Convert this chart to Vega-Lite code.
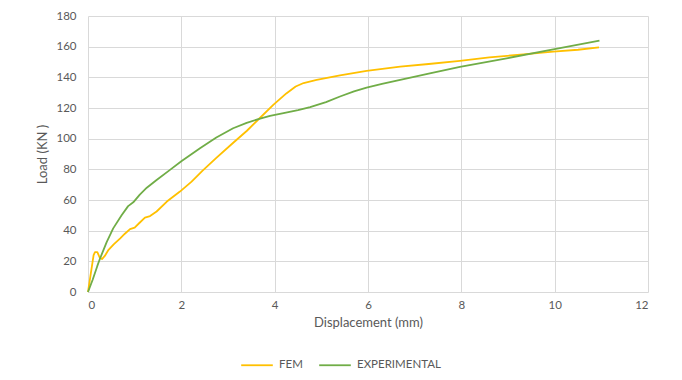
{
  "$schema": "https://vega.github.io/schema/vega-lite/v6.json",
  "width": 560,
  "height": 276,
  "autosize": {"type": "none"},
  "padding": {"left": 88, "top": 16, "right": 34, "bottom": 88},
  "background": "white",
  "config": {
    "font": "Lato",
    "view": {"stroke": null},
    "axis": {
      "domain": false,
      "ticks": false,
      "tickSize": 0,
      "gridColor": "#d9d9d9",
      "gridWidth": 1,
      "labelColor": "#595959",
      "labelFontSize": 11.5,
      "titleColor": "#595959",
      "titleFontSize": 13,
      "titleFontWeight": "normal"
    }
  },
  "data": {
    "values": [
      {"series": "FEM", "i": 0, "x": 0, "y": 0},
      {"series": "FEM", "i": 1, "x": 0.05, "y": 10},
      {"series": "FEM", "i": 2, "x": 0.12, "y": 24},
      {"series": "FEM", "i": 3, "x": 0.15, "y": 26},
      {"series": "FEM", "i": 4, "x": 0.2, "y": 26},
      {"series": "FEM", "i": 5, "x": 0.25, "y": 22.5},
      {"series": "FEM", "i": 6, "x": 0.3, "y": 21.5},
      {"series": "FEM", "i": 7, "x": 0.36, "y": 23.5},
      {"series": "FEM", "i": 8, "x": 0.44, "y": 27.5},
      {"series": "FEM", "i": 9, "x": 0.55, "y": 31},
      {"series": "FEM", "i": 10, "x": 0.69, "y": 35},
      {"series": "FEM", "i": 11, "x": 0.79, "y": 38},
      {"series": "FEM", "i": 12, "x": 0.9, "y": 41},
      {"series": "FEM", "i": 13, "x": 1.0, "y": 42},
      {"series": "FEM", "i": 14, "x": 1.1, "y": 45},
      {"series": "FEM", "i": 15, "x": 1.22, "y": 48.5},
      {"series": "FEM", "i": 16, "x": 1.33, "y": 49.5},
      {"series": "FEM", "i": 17, "x": 1.47, "y": 52.5},
      {"series": "FEM", "i": 18, "x": 1.69, "y": 59},
      {"series": "FEM", "i": 19, "x": 1.97, "y": 65.5},
      {"series": "FEM", "i": 20, "x": 2.22, "y": 72},
      {"series": "FEM", "i": 21, "x": 2.45, "y": 79},
      {"series": "FEM", "i": 22, "x": 2.75, "y": 87.5},
      {"series": "FEM", "i": 23, "x": 3.1, "y": 97},
      {"series": "FEM", "i": 24, "x": 3.4, "y": 105},
      {"series": "FEM", "i": 25, "x": 3.65, "y": 112.5},
      {"series": "FEM", "i": 26, "x": 3.97, "y": 122},
      {"series": "FEM", "i": 27, "x": 4.25, "y": 129.5},
      {"series": "FEM", "i": 28, "x": 4.45, "y": 134},
      {"series": "FEM", "i": 29, "x": 4.62, "y": 136.3},
      {"series": "FEM", "i": 30, "x": 4.9, "y": 138.3},
      {"series": "FEM", "i": 31, "x": 5.4, "y": 141.3},
      {"series": "FEM", "i": 32, "x": 5.97, "y": 144.2},
      {"series": "FEM", "i": 33, "x": 6.69, "y": 147},
      {"series": "FEM", "i": 34, "x": 7.3, "y": 148.7},
      {"series": "FEM", "i": 35, "x": 7.97, "y": 150.8},
      {"series": "FEM", "i": 36, "x": 8.6, "y": 153},
      {"series": "FEM", "i": 37, "x": 9.33, "y": 155},
      {"series": "FEM", "i": 38, "x": 9.97, "y": 156.7},
      {"series": "FEM", "i": 39, "x": 10.5, "y": 158},
      {"series": "FEM", "i": 40, "x": 10.95, "y": 159.5},
      {"series": "EXPERIMENTAL", "i": 0, "x": 0, "y": 0},
      {"series": "EXPERIMENTAL", "i": 1, "x": 0.1, "y": 8},
      {"series": "EXPERIMENTAL", "i": 2, "x": 0.2, "y": 17},
      {"series": "EXPERIMENTAL", "i": 3, "x": 0.26, "y": 22},
      {"series": "EXPERIMENTAL", "i": 4, "x": 0.4, "y": 32.5},
      {"series": "EXPERIMENTAL", "i": 5, "x": 0.54, "y": 41.5},
      {"series": "EXPERIMENTAL", "i": 6, "x": 0.72, "y": 50},
      {"series": "EXPERIMENTAL", "i": 7, "x": 0.86, "y": 56},
      {"series": "EXPERIMENTAL", "i": 8, "x": 0.97, "y": 58.5},
      {"series": "EXPERIMENTAL", "i": 9, "x": 1.11, "y": 63.5},
      {"series": "EXPERIMENTAL", "i": 10, "x": 1.26, "y": 68},
      {"series": "EXPERIMENTAL", "i": 11, "x": 1.47, "y": 73},
      {"series": "EXPERIMENTAL", "i": 12, "x": 1.75, "y": 79.5},
      {"series": "EXPERIMENTAL", "i": 13, "x": 2.0, "y": 85.3},
      {"series": "EXPERIMENTAL", "i": 14, "x": 2.4, "y": 93.8},
      {"series": "EXPERIMENTAL", "i": 15, "x": 2.75, "y": 100.8},
      {"series": "EXPERIMENTAL", "i": 16, "x": 3.11, "y": 106.8},
      {"series": "EXPERIMENTAL", "i": 17, "x": 3.4, "y": 110.3},
      {"series": "EXPERIMENTAL", "i": 18, "x": 3.65, "y": 112.7},
      {"series": "EXPERIMENTAL", "i": 19, "x": 3.9, "y": 114.8},
      {"series": "EXPERIMENTAL", "i": 20, "x": 4.19, "y": 116.7},
      {"series": "EXPERIMENTAL", "i": 21, "x": 4.5, "y": 118.6},
      {"series": "EXPERIMENTAL", "i": 22, "x": 4.76, "y": 120.6},
      {"series": "EXPERIMENTAL", "i": 23, "x": 5.1, "y": 123.8},
      {"series": "EXPERIMENTAL", "i": 24, "x": 5.4, "y": 127.5},
      {"series": "EXPERIMENTAL", "i": 25, "x": 5.7, "y": 130.8},
      {"series": "EXPERIMENTAL", "i": 26, "x": 5.97, "y": 133.3},
      {"series": "EXPERIMENTAL", "i": 27, "x": 6.3, "y": 135.7},
      {"series": "EXPERIMENTAL", "i": 28, "x": 6.69, "y": 138.3},
      {"series": "EXPERIMENTAL", "i": 29, "x": 7.3, "y": 142.4},
      {"series": "EXPERIMENTAL", "i": 30, "x": 7.97, "y": 146.8},
      {"series": "EXPERIMENTAL", "i": 31, "x": 9.0, "y": 152.6},
      {"series": "EXPERIMENTAL", "i": 32, "x": 9.97, "y": 158.3},
      {"series": "EXPERIMENTAL", "i": 33, "x": 10.96, "y": 164}
    ]
  },
  "mark": {"type": "line", "strokeWidth": 1.8, "strokeJoin": "round"},
  "encoding": {
    "x": {
      "field": "x",
      "type": "quantitative",
      "scale": {"domain": [0, 12], "nice": false},
      "axis": {"values": [0, 2, 4, 6, 8, 10, 12], "title": "Displacement (mm)", "labelPadding": 7, "titlePadding": 6}
    },
    "y": {
      "field": "y",
      "type": "quantitative",
      "scale": {"domain": [0, 180], "nice": false},
      "axis": {"values": [0, 20, 40, 60, 80, 100, 120, 140, 160, 180], "title": "Load (KN )", "labelPadding": 12, "titlePadding": 6}
    },
    "color": {
      "field": "series",
      "type": "nominal",
      "scale": {"domain": ["FEM", "EXPERIMENTAL"], "range": ["#FFC000", "#70AD47"]},
      "legend": {
        "title": null,
        "orient": "none",
        "direction": "horizontal",
        "legendX": 152,
        "legendY": 332,
        "symbolType": "stroke",
        "symbolSize": 1000,
        "symbolStrokeWidth": 1.8,
        "labelFontSize": 11.5,
        "labelColor": "#595959",
        "labelOffset": 5,
        "columnPadding": 12
      }
    },
    "order": {"field": "i", "type": "quantitative"}
  }
}
